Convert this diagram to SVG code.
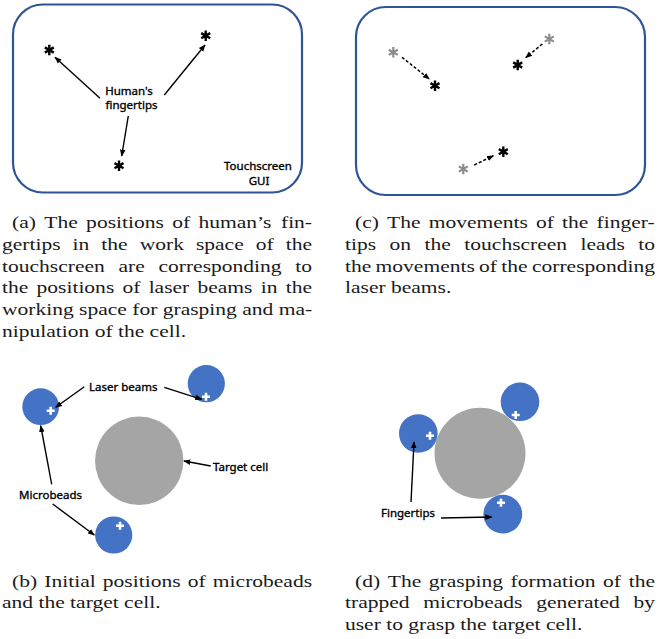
<svg xmlns="http://www.w3.org/2000/svg" xmlns:xlink="http://www.w3.org/1999/xlink" width="662" height="639" viewBox="0 0 662 639">
<style>
.screen{fill:#fff;stroke:#2f5597;stroke-width:2.2}
.lbl{font-family:"Noto Sans","Liberation Sans",sans-serif;font-size:11.5px;fill:#000;stroke:#000;stroke-width:0.35}
.cap{font-family:"Liberation Serif","Times New Roman",serif;font-size:17.5px;fill:#1a1a1a}
.conn{stroke:#000;stroke-width:1.4;fill:none;marker-end:url(#ah)}
.dash{stroke:#000;stroke-width:1.5;fill:none;stroke-dasharray:3 2;marker-end:url(#ah)}
.bead{fill:#4472c4}
.cell{fill:#a5a5a5}
.plus{stroke:#fff;stroke-width:2.6;fill:none}
.ast{stroke:#000;stroke-width:2.4;fill:none}
.astg{stroke:#8c8c8c;stroke-width:2.2;fill:none}
</style>
<defs>
<marker id="ah" viewBox="0 0 10 10" refX="9" refY="5" markerWidth="7" markerHeight="7" markerUnits="userSpaceOnUse" orient="auto"><path d="M0,1 L10,5 L0,9 z" fill="#000"/></marker>
<path id="star" d="M0,-5.2V5.2M-4.5,-2.6L4.5,2.6M-4.5,2.6L4.5,-2.6"/>
<path id="plus" d="M-4,0H4M0,-4V4"/>
</defs>

<!-- Panel (a) -->
<g id="screen-a"><rect class="screen" x="13" y="4.5" width="289" height="188" rx="30"/></g>
<g id="tip-a1"><use xlink:href="#star" class="ast" x="49.3" y="50"/></g>
<g id="tip-a2"><use xlink:href="#star" class="ast" x="205.7" y="35.7"/></g>
<g id="tip-a3"><use xlink:href="#star" class="ast" x="119" y="165.7"/></g>
<g id="label-fingertips"><text class="lbl" text-anchor="middle"><tspan x="129" y="95">Human's</tspan><tspan x="131.5" y="109">fingertips</tspan></text></g>
<g id="label-gui"><text class="lbl" text-anchor="middle"><tspan x="258" y="170">Touchscreen</tspan><tspan x="259" y="185">GUI</tspan></text></g>

<!-- Panel (c) -->
<g id="screen-c"><rect class="screen" x="356" y="7" width="289" height="188" rx="30"/></g>
<g id="old-c1"><use xlink:href="#star" class="astg" x="393.3" y="52.3"/></g>
<g id="old-c2"><use xlink:href="#star" class="astg" x="549.3" y="39"/></g>
<g id="old-c3"><use xlink:href="#star" class="astg" x="463.3" y="169"/></g>
<g id="new-c1"><use xlink:href="#star" class="ast" x="435" y="85.7"/></g>
<g id="new-c2"><use xlink:href="#star" class="ast" x="517.7" y="65"/></g>
<g id="new-c3"><use xlink:href="#star" class="ast" x="503.3" y="151.7"/></g>

<!-- Panel (b) -->
<g id="cell-b"><circle class="cell" cx="139.2" cy="460.8" r="44.2"/></g>
<g id="bead-b1"><circle class="bead" cx="40.7" cy="406.7" r="18.4"/><use xlink:href="#plus" class="plus" x="50.7" y="410.7"/></g>
<g id="bead-b2"><circle class="bead" cx="206.3" cy="383.7" r="18.6"/><use xlink:href="#plus" class="plus" x="206" y="396.7"/></g>
<g id="bead-b3"><circle class="bead" cx="113.7" cy="535" r="18.6"/><use xlink:href="#plus" class="plus" x="120" y="525.7"/></g>
<g id="label-laser"><text class="lbl" x="89" y="391">Laser beams</text></g>
<g id="label-target"><text class="lbl" x="213" y="471">Target cell</text></g>
<g id="label-microbeads"><text class="lbl" x="19" y="499">Microbeads</text></g>

<!-- Panel (d) -->
<g id="cell-d"><circle class="cell" cx="480" cy="453.3" r="45.5"/></g>
<g id="bead-d1"><circle class="bead" cx="418.3" cy="433.5" r="19.3"/><use xlink:href="#plus" class="plus" x="430" y="435.7"/></g>
<g id="bead-d2"><circle class="bead" cx="520" cy="401.8" r="19.3"/><use xlink:href="#plus" class="plus" x="515.7" y="415"/></g>
<g id="bead-d3"><circle class="bead" cx="502.8" cy="514.2" r="19.4"/><use xlink:href="#plus" class="plus" x="501" y="502.7"/></g>
<g id="label-fingertips-d"><text class="lbl" x="381" y="516.7">Fingertips</text></g>

<!-- Connectors -->
<g id="connectors">
<line class="conn" x1="100" y1="98.3" x2="55" y2="57.3"/>
<line class="conn" x1="164.3" y1="95" x2="205" y2="45"/>
<line class="conn" x1="128.3" y1="116" x2="121.7" y2="156"/>
<line class="dash" x1="402" y1="57.3" x2="429.3" y2="79"/>
<line class="dash" x1="542.3" y1="44" x2="525.7" y2="57.7"/>
<line class="dash" x1="474.3" y1="165" x2="493.3" y2="155.7"/>
<line class="conn" x1="84.3" y1="386.7" x2="55.7" y2="407.3"/>
<line class="conn" x1="164.3" y1="387.3" x2="201.7" y2="399.3"/>
<line class="conn" x1="210.7" y1="466" x2="184" y2="461"/>
<line class="conn" x1="51.7" y1="484.3" x2="40.7" y2="425.7"/>
<line class="conn" x1="52.7" y1="504" x2="94.3" y2="535"/>
<line class="conn" x1="411" y1="502" x2="414" y2="442"/>
<line class="conn" x1="441" y1="518" x2="491.7" y2="517"/>
</g>

<!-- Captions -->
<g id="caption-a" transform="scale(1.23,1)">
<text class="cap" y="228"><tspan x="9.76">(a)</tspan><tspan x="36.00">The</tspan><tspan x="70.02">positions</tspan><tspan x="139.99">of</tspan><tspan x="161.39">human’s</tspan><tspan x="228.43">fin-</tspan></text>
<text class="cap" y="250"><tspan x="1.63">gertips</tspan><tspan x="59.01">in</tspan><tspan x="82.41">the</tspan><tspan x="113.58">work</tspan><tspan x="159.30">space</tspan><tspan x="207.93">of</tspan><tspan x="232.29">the</tspan></text>
<text class="cap" y="271.7"><tspan x="1.63">touchscreen</tspan><tspan x="96.31">are</tspan><tspan x="128.85">corresponding</tspan><tspan x="240.06">to</tspan></text>
<text class="cap" y="293.4"><tspan x="1.63">the</tspan><tspan x="29.71">positions</tspan><tspan x="99.57">of</tspan><tspan x="120.85">laser</tspan><tspan x="160.58">beams</tspan><tspan x="211.96">in</tspan><tspan x="232.28">the</tspan></text>
<text class="cap" x="1.63" y="315">working space for grasping and ma-</text>
<text class="cap" x="1.63" y="336.7">nipulation of the cell.</text>
</g>
<g id="caption-c" transform="scale(1.23,1)">
<text class="cap" y="228"><tspan x="288.62">(c)</tspan><tspan x="314.67">The</tspan><tspan x="348.50">movements</tspan><tspan x="435.76">of</tspan><tspan x="456.97">the</tspan><tspan x="484.98">finger-</tspan></text>
<text class="cap" y="250"><tspan x="280.49">tips</tspan><tspan x="316.73">on</tspan><tspan x="345.20">the</tspan><tspan x="377.54">touchscreen</tspan><tspan x="472.00">leads</tspan><tspan x="518.90">to</tspan></text>
<text class="cap" y="271.7"><tspan x="280.49">the</tspan><tspan x="305.38">movements</tspan><tspan x="389.52">of</tspan><tspan x="407.62">the</tspan><tspan x="432.51">corresponding</tspan></text>
<text class="cap" x="280.49" y="293.4">laser beams.</text>
</g>
<g id="caption-b" transform="scale(1.23,1)">
<text class="cap" y="587"><tspan x="9.76">(b)</tspan><tspan x="36.01">Initial</tspan><tspan x="83.63">positions</tspan><tspan x="152.64">of</tspan><tspan x="173.07">microbeads</tspan></text>
<text class="cap" x="1.63" y="608.5">and the target cell.</text>
</g>
<g id="caption-d" transform="scale(1.23,1)">
<text class="cap" y="587"><tspan x="288.62">(d)</tspan><tspan x="315.25">The</tspan><tspan x="348.68">grasping</tspan><tspan x="415.14">formation</tspan><tspan x="490.33">of</tspan><tspan x="511.15">the</tspan></text>
<text class="cap" y="608.5"><tspan x="280.49">trapped</tspan><tspan x="344.11">microbeads</tspan><tspan x="435.90">generated</tspan><tspan x="515.05">by</tspan></text>
<text class="cap" x="280.49" y="630">user to grasp the target cell.</text>
</g>
</svg>
